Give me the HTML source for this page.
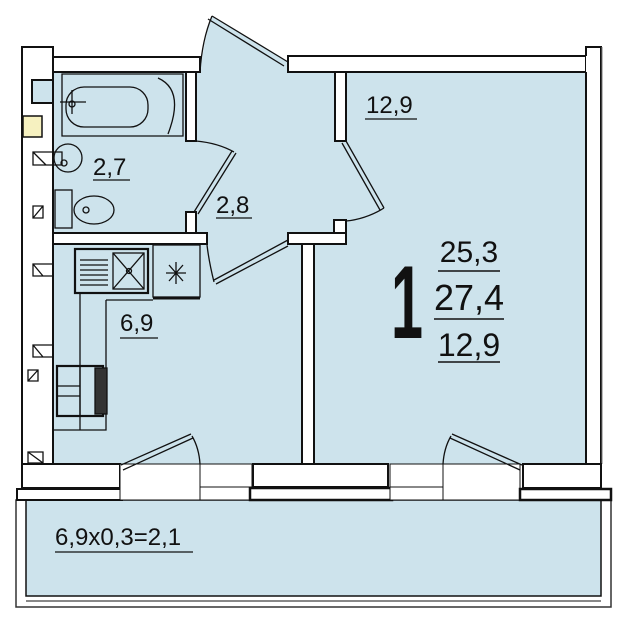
<!DOCTYPE html>
<html><head><meta charset="utf-8"><style>
html,body{margin:0;padding:0;background:#fff;width:619px;height:627px;overflow:hidden}
svg{display:block}
text{font-family:"Liberation Sans Narrow","Liberation Sans",sans-serif;fill:#111}
</style></head><body>
<svg width="619" height="627" viewBox="0 0 619 627" xmlns="http://www.w3.org/2000/svg">
<g stroke="#111" stroke-width="2" fill="#cde3ec">
<rect x="53" y="72" width="533" height="392" stroke="none"/>
<path d="M200 72 Q205 35 212 16 L288 62 L288 72 Z" stroke="none"/>
<rect x="16" y="500" width="595" height="107" fill="#fff" stroke="#333" stroke-width="1.5"/>
<rect x="26" y="500" width="575" height="96" fill="#cde3ec" stroke="#111" stroke-width="1.5"/>
<line x1="26" y1="601" x2="601" y2="601" stroke-width="1"/>
<rect x="22" y="47" width="31" height="417" fill="#fff"/>
<rect x="32" y="80" width="21" height="23" fill="#cde3ec"/>
<rect x="23" y="116" width="19" height="21" fill="#f6f1c0" stroke-width="1.5"/>
<rect x="53" y="57" width="147" height="15" fill="#fff"/>
<rect x="288" y="56" width="298" height="16" fill="#fff"/>
<path d="M586 72 L586 464 L601 464 L601 47 L586 47 L586 56" fill="#fff" stroke-width="2"/>
<line x1="602" y1="47" x2="602" y2="464" stroke="#777" stroke-width="1"/>
<rect x="186" y="72" width="10" height="69" fill="#fff"/>
<rect x="186" y="212" width="10" height="21" fill="#fff"/>
<rect x="53" y="233" width="154" height="11" fill="#fff"/>
<rect x="288" y="233" width="58" height="11" fill="#fff"/>
<rect x="302" y="244" width="12" height="220" fill="#fff"/>
<rect x="335" y="72" width="11" height="69" fill="#fff"/>
<rect x="334" y="220" width="12" height="13" fill="#fff"/>
<rect x="22" y="464" width="98" height="24" fill="#fff"/>
<rect x="17" y="489" width="105" height="11" fill="#fff"/>
<rect x="120" y="464" width="80" height="36" fill="#fff" stroke-width="1"/>
<rect x="200" y="464" width="52" height="36" fill="#fff" stroke-width="1"/>
<line x1="200" y1="487" x2="252" y2="487" stroke-width="1"/>
<rect x="253" y="464" width="135" height="23" fill="#fff"/>
<rect x="250" y="488" width="142" height="12" fill="#fff" stroke-width="2.5"/>
<rect x="390" y="464" width="53" height="36" fill="#fff" stroke-width="1"/>
<line x1="390" y1="487" x2="443" y2="487" stroke-width="1"/>
<rect x="443" y="464" width="77" height="36" fill="#fff" stroke-width="1"/>
<rect x="523" y="464" width="78" height="24" fill="#fff"/>
<rect x="520" y="489" width="91" height="11" fill="#fff" stroke-width="2.5"/>
</g>
<g stroke="#111" stroke-width="1.3" fill="none">
<path d="M212 16 L288 62 M208 19 L284 66" /><path d="M212 16 Q202 40 200 72"/>
<path d="M232 151 L194 212 M236 153 L198 214"/><path d="M196 141 Q218 143 234 152"/>
<path d="M288 240 L214 280 M288 246 L216 284"/><path d="M214 282 Q209 262 207 245"/>
<path d="M346 141 L384 208 M342 143 L380 210"/><path d="M384 208 Q366 219 346 221"/>
<path d="M121 465 L191 434 M123 470 L193 438"/><path d="M192 436 Q199 448 200 464"/>
<path d="M522 465 L452 434 M520 470 L450 438"/><path d="M451 436 Q444 448 443 464"/>
</g>
<g stroke="#111" stroke-width="1.3" fill="none">
<path d="M62 74 L183 74 L183 136 L62 136 Z" fill="#cde3ec"/>
<rect x="66" y="87" width="82" height="40" rx="18"/>
<path d="M158 78 Q185 90 168 134" />
<path d="M60 102 L86 102 M72 90 L72 114"/><circle cx="72" cy="104" r="3"/>
<circle cx="68" cy="158" r="14"/><path d="M33 152 L62 152 L62 165 L33 165 Z M33 152 L46 165"/>
<circle cx="64" cy="163" r="3"/>
<rect x="55" y="190" width="17" height="38"/><ellipse cx="94" cy="210" rx="20" ry="14"/><circle cx="86" cy="210" r="3"/>
<path d="M33 206 L43 206 L43 218 L33 218 Z M33 218 L43 206"/>
<path d="M33 264 L53 264 L53 276 L33 276 Z M33 264 L43 276"/>
<path d="M33 345 L53 345 L53 357 L33 357 Z M33 345 L43 357"/>
<path d="M28 370 L38 370 L38 381 L28 381 Z M28 381 L38 370"/>
<path d="M28 452 L43 452 L43 463 L28 463 Z M28 452 L43 463"/>
<rect x="75" y="249" width="73" height="44" stroke-width="2.2"/>
<rect x="113" y="253" width="31" height="36"/>
<path d="M113 253 L144 289 M144 253 L113 289"/><circle cx="129" cy="271" r="2.5"/>
<path d="M80 260 L108 260 M80 265 L108 265 M80 270 L108 270 M80 275 L108 275 M80 280 L108 280 M80 285 L108 285"/>
<rect x="153" y="245" width="47" height="52"/><path d="M153 298 L200 298" stroke-width="3"/>
<path d="M176 262 L176 284 M166 273 L186 273 M169 265 L183 281 M183 265 L169 281"/>
<path d="M80 293 L80 430 M106 300 L106 430 L53 430 M153 300 L106 300"/>
<rect x="57" y="366" width="46" height="50" stroke-width="2.2"/><path d="M57 386 L80 386 M57 396 L80 396 M80 366 L80 416"/>
<rect x="95" y="368" width="12" height="46" fill="#333"/>
</g>
<text x="93" y="175" font-size="24">2,7</text><line x1="93" y1="180" x2="130" y2="180" stroke="#111" stroke-width="1.2"/>
<text x="216" y="213" font-size="24">2,8</text><line x1="216" y1="218" x2="252" y2="218" stroke="#111" stroke-width="1.2"/>
<text x="120" y="331" font-size="24">6,9</text><line x1="120" y1="338" x2="158" y2="338" stroke="#111" stroke-width="1.2"/>
<text x="366" y="113" font-size="24">12,9</text><line x1="365" y1="119" x2="417" y2="119" stroke="#111" stroke-width="1.2"/>
<text x="391" y="338" font-size="104" font-weight="bold" textLength="32" lengthAdjust="spacingAndGlyphs">1</text>
<text x="469" y="262" font-size="30" text-anchor="middle">25,3</text><line x1="438" y1="271" x2="500" y2="271" stroke="#111" stroke-width="1.5"/>
<text x="469" y="310" font-size="36" text-anchor="middle">27,4</text><line x1="434" y1="319" x2="504" y2="319" stroke="#111" stroke-width="1.5"/>
<text x="469" y="356" font-size="32" text-anchor="middle">12,9</text><line x1="438" y1="362" x2="500" y2="362" stroke="#111" stroke-width="1.5"/>
<text x="55" y="545" font-size="24">6,9x0,3=2,1</text><line x1="55" y1="552" x2="193" y2="552" stroke="#111" stroke-width="1.2"/>
</svg>
</body></html>
